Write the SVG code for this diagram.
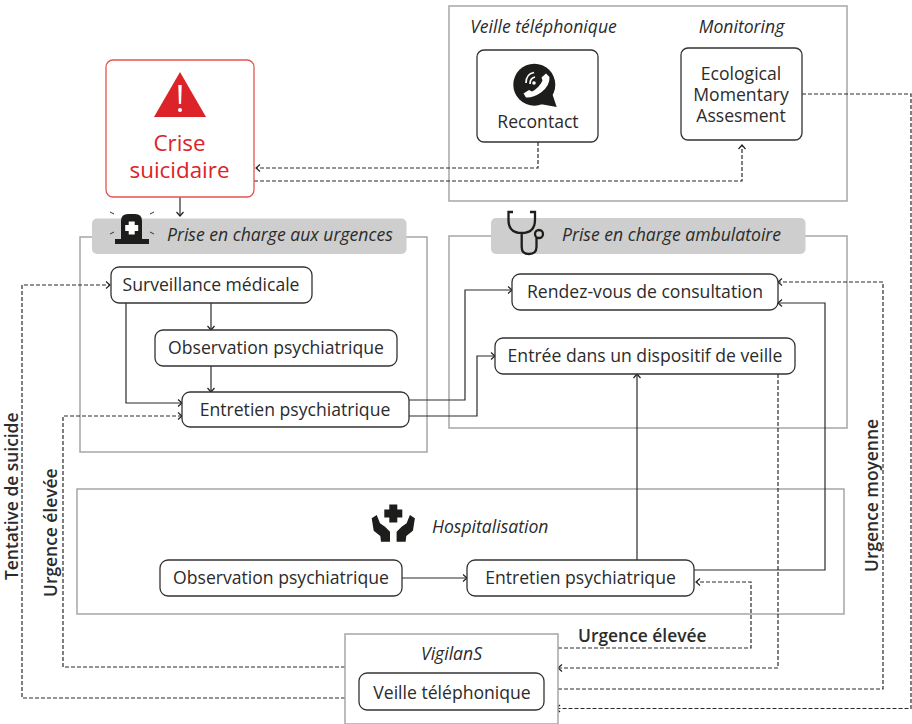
<svg xmlns="http://www.w3.org/2000/svg" width="912" height="724" viewBox="0 0 912 724">
<defs>
<marker id="arr" markerWidth="10" markerHeight="10" refX="7" refY="5" orient="auto" markerUnits="userSpaceOnUse"><path d="M3 1.500L7 5L3 8.500" fill="none" stroke="#222" stroke-width="1.200"/></marker>
</defs>
<style>
text{font-family:"Open Sans","Noto Sans","DejaVu Sans",sans-serif;fill:#2b2b2b;font-size:17.6px}
.m{text-anchor:middle}
.i{font-style:italic;font-size:17.6px}
.b{font-weight:600;font-size:17.4px}
.grp{fill:none;stroke:#a6a6a6;stroke-width:1.500}
.hdr{fill:#cdcecd}
.box{fill:#fff;stroke:#333;stroke-width:1.300}
.c{fill:none;stroke:#2a2a2a;stroke-width:1.200;marker-end:url(#arr)}
.d{stroke-dasharray:4 2}
.ic{fill:#1d1d1b}
.st{fill:none;stroke:#1d1d1b;stroke-width:2.300}
.red{fill:#dc2329;font-size:22.4px}
</style>
<rect width="912" height="724" fill="#fff"/>
<g id="group-veille"><rect class="grp" x="449" y="6" width="398" height="195"/></g>
<g id="group-urgences"><rect class="grp" x="80" y="237" width="347" height="215"/>
<rect class="hdr" x="92" y="218.500" width="314.500" height="35.500" rx="5"/>
<path class="ic" d="M121 239V221q0-7 7-7h7q7 0 7 7V239h7v5H115v-5z"/>
<path d="M128.700 221.500h6v3.500h3.500v6h-3.500v3.500h-6v-3.500h-3.500v-6h3.500z" fill="#fff"/>
<path d="M110 212l4 2M154 212l-4 2M110 234l4-2M154 234l-4-2" stroke="#333" stroke-width="1" fill="none"/>
<text class="i" x="167" y="240.500">Prise en charge aux urgences</text></g>
<g id="group-ambulatoire"><rect class="grp" x="449" y="236" width="398" height="192"/>
<rect class="hdr" x="491" y="218" width="314.500" height="36" rx="5"/>
<path class="st" d="M513 212H508.500V220Q508.500 233 521.700 233T535 220V212H530M521.700 233V247Q521.700 254 529 254T536.500 247V238"/><circle class="st" cx="539" cy="234" r="4"/>
<text class="i" x="562" y="240.500">Prise en charge ambulatoire</text></g>
<g id="group-hospitalisation"><rect class="grp" x="77" y="489" width="767" height="125"/>
<path class="ic" d="M389.300 504.500h8v5h5v8h-5v5h-8v-5h-5v-8h5z"/>
<path class="ic" d="M376.700 515L380 523.300L385 526.700L390 531.700V541.700H381L380.300 536L373.700 530.700L371.700 518.300Z"/>
<path class="ic" d="M409.900 515L406.600 523.300L401.600 526.700L396.600 531.700V541.700H405.600L406.300 536L412.900 530.700L414.900 518.300Z"/>
<text class="i" x="432" y="532.500">Hospitalisation</text></g>
<g id="connectors">
<path class="c" d="M180 197V216"/>
<path class="c d" d="M538 142V168H256"/>
<path class="c d" d="M254 181H742V145"/>
<path class="c d" d="M802 94H911V708.500H556"/>
<path class="c d" d="M558 689H883V282H778"/>
<path class="c d" d="M345 667H63V416H182"/>
<path class="c d" d="M345 698H22V285H110"/>
<path class="c d" d="M558 648H751V582H696"/>
<path class="c d" d="M778 374V668H558"/>
<path class="c" d="M694 570H825V303H778"/>
<path class="c" d="M637 560V374"/>
<path class="c" d="M409 400H465V290H512"/>
<path class="c" d="M409 416H477V356H495"/>
<path class="c" d="M211 303V330"/>
<path class="c" d="M211 366V392"/>
<path class="c" d="M126 303V403H182"/>
<path class="c" d="M402 578H467"/>
</g>
<g id="crise"><rect x="106" y="60" width="148" height="137" rx="7" fill="#fff" stroke="#e3564f" stroke-width="1.300"/>
<path d="M180 72L206 117H154Z" fill="#dc2329"/><path d="M178.300 85h3.400l-.6 19h-2.200z" fill="#fff"/><circle cx="180" cy="110" r="2" fill="#fff"/>
<text class="m red" x="179.500" y="151">Crise</text>
<text class="m red" x="179.500" y="178">suicidaire</text></g>
<g id="recontact"><text class="i m" x="543.500" y="32.500">Veille téléphonique</text>
<rect class="box" x="477" y="50" width="121" height="92" rx="7"/>
<circle class="ic" cx="534.300" cy="84.700" r="21"/><path class="ic" d="M552 93L556.700 107L540 104Z"/>
<path d="M546 73.500L549.500 77Q550 86 541 92.500Q533 98 526 97.500L523.500 93.500L529 90L532 91.500Q539 88 542.500 80.500L541.500 77.500Z" fill="#fff"/>
<path d="M526 83Q526 74 534 72.500M530 84Q530 78 535 77" fill="none" stroke="#fff" stroke-width="1.700"/><circle cx="534" cy="83" r="1.800" fill="#fff"/>
<text class="m" x="538" y="127.500">Recontact</text></g>
<g id="ema"><text class="i m" x="741.500" y="32.500">Monitoring</text>
<rect class="box" x="681" y="48" width="121" height="92" rx="7"/>
<text class="m" x="741" y="79.500">Ecological</text><text class="m" x="741" y="100.500">Momentary</text><text class="m" x="741" y="121.500">Assesment</text></g>
<g id="surveillance"><rect class="box" x="111" y="267" width="201" height="36" rx="8"/><text class="m" x="211" y="290.500">Surveillance médicale</text></g>
<g id="observation-urg"><rect class="box" x="155" y="330" width="242" height="36" rx="8"/><text class="m" x="276" y="353.500">Observation psychiatrique</text></g>
<g id="entretien-urg"><rect class="box" x="182" y="392" width="227" height="35" rx="8"/><text class="m" x="295" y="415.500">Entretien psychiatrique</text></g>
<g id="rdv"><rect class="box" x="512" y="274" width="266" height="36" rx="8"/><text class="m" x="645" y="297.500">Rendez-vous de consultation</text></g>
<g id="dispositif"><rect class="box" x="495" y="338" width="300" height="36" rx="8"/><text class="m" x="645" y="361.500">Entrée dans un dispositif de veille</text></g>
<g id="observation-hosp"><rect class="box" x="160" y="560" width="242" height="36" rx="8"/><text class="m" x="281" y="583.500">Observation psychiatrique</text></g>
<g id="entretien-hosp"><rect class="box" x="467" y="560" width="227" height="36" rx="8"/><text class="m" x="580.500" y="583.500">Entretien psychiatrique</text></g>
<g id="vigilans"><rect x="345" y="634" width="213" height="90" fill="#fff" stroke="#a6a6a6" stroke-width="1.500"/>
<text class="i m" x="451.500" y="659.500">VigilanS</text>
<rect class="box" x="359" y="673" width="185" height="37" rx="8"/><text class="m" x="452" y="698.500">Veille téléphonique</text></g>
<g id="labels">
<text class="b" x="578" y="642">Urgence élevée</text>
<text class="b" transform="translate(18 580) rotate(-90)">Tentative de suicide</text>
<text class="b" transform="translate(57 597) rotate(-90)">Urgence élevée</text>
<text class="b" transform="translate(878 572) rotate(-90)">Urgence moyenne</text>
</g>
</svg>
